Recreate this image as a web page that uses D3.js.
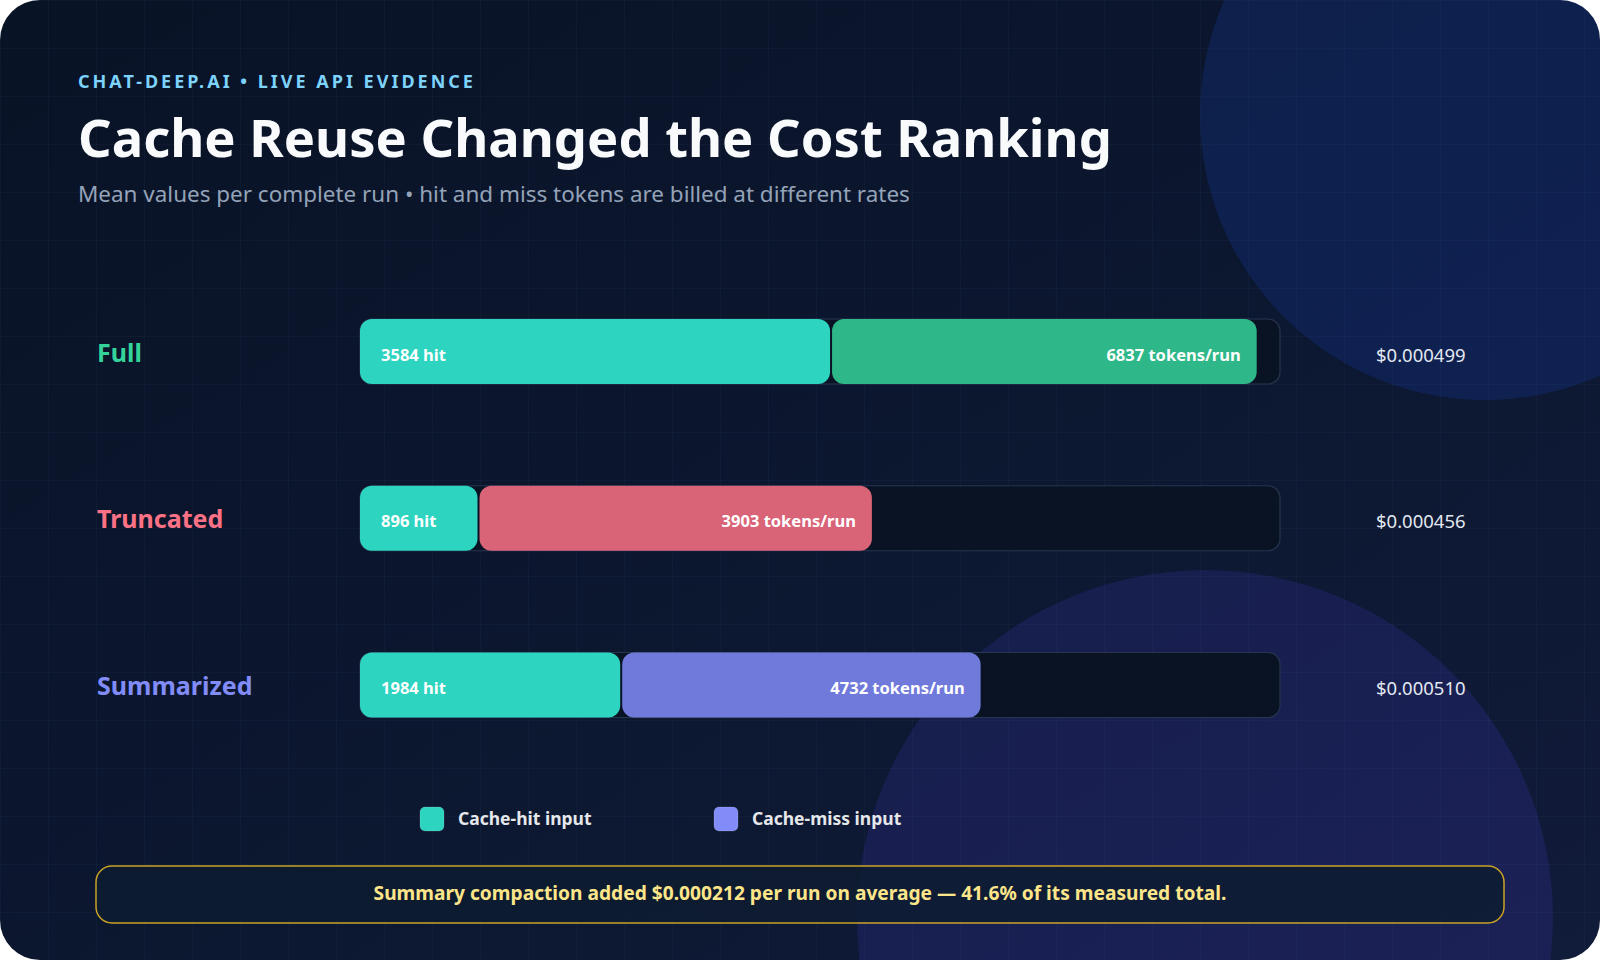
<!DOCTYPE html>
<html>
<head>
<meta charset="utf-8">
<script src="https://cdn.jsdelivr.net/npm/d3@7"></script>
<style>
  html, body { margin: 0; padding: 0; background: #ffffff; }
  svg { display: block; }
  text { font-family: "Noto Sans", "Open Sans", "DejaVu Sans", sans-serif; }
</style>
</head>
<body>
<svg id="chart" width="1600" height="960"></svg>
<script>
// ---- data ----
const categories = ["Full", "Truncated", "Summarized"];
const hitTokens = [3584, 896, 1984];
const totalTokens = [6837, 3903, 4732];
const costPerRun = [0.000499, 0.000456, 0.000510];
const categoryColors = ["#34d399", "#fb7185", "#818cf8"];
const hitColor = "#2dd4bf";
const legendLabels = ["Cache-hit input", "Cache-miss input"];
const legendColors = ["#2dd4bf", "#818cf8"];
const eyebrowText = "CHAT-DEEP.AI \u2022 LIVE API EVIDENCE";
const titleText = "Cache Reuse Changed the Cost Ranking";
const subtitleText = "Mean values per complete run \u2022 hit and miss tokens are billed at different rates";
const footerText = "Summary compaction added $0.000212 per run on average \u2014 41.6% of its measured total.";

// ---- setup ----
const W = 1600, H = 960;
const svg = d3.select("#chart");
const defs = svg.append("defs");

defs.append("clipPath").attr("id", "card")
  .append("rect").attr("width", W).attr("height", H).attr("rx", 40).attr("ry", 40);

const bg = defs.append("linearGradient").attr("id", "bg")
  .attr("x1", "0").attr("y1", "0").attr("x2", "1").attr("y2", "1");
bg.append("stop").attr("offset", "0%").attr("stop-color", "#091326");
bg.append("stop").attr("offset", "55%").attr("stop-color", "#0c1730");
bg.append("stop").attr("offset", "100%").attr("stop-color", "#111b3a");

const grid = defs.append("pattern").attr("id", "grid")
  .attr("width", 48).attr("height", 48).attr("patternUnits", "userSpaceOnUse");
grid.append("path").attr("d", "M48 0 L0 0 0 48").attr("fill", "none")
  .attr("stroke", "rgba(100,130,190,0.10)").attr("stroke-width", 1);

const card = svg.append("g").attr("clip-path", "url(#card)");
card.append("rect").attr("width", W).attr("height", H).attr("fill", "url(#bg)");
card.append("circle").attr("cx", 1485).attr("cy", 115).attr("r", 285)
  .attr("fill", "rgba(29,78,216,0.18)");
card.append("circle").attr("cx", 1205).attr("cy", 918).attr("r", 348)
  .attr("fill", "rgba(79,70,229,0.16)");
card.append("rect").attr("width", W).attr("height", H).attr("fill", "url(#grid)");

function fitWidth(sel, target) {
  const fs = parseFloat(sel.attr("font-size"));
  const w = sel.node().getComputedTextLength();
  sel.attr("font-size", (fs * target / w).toFixed(2));
}

// ---- header ----
const eyebrow = card.append("text").attr("x", 78).attr("y", 88)
  .attr("font-size", 18).attr("font-weight", 700).attr("fill", "#7dd3fc")
  .text(eyebrowText);
{
  const w = eyebrow.node().getComputedTextLength();
  const n = eyebrowText.length;
  eyebrow.attr("letter-spacing", ((395 - w) / (n - 1)).toFixed(2));
}

const title = card.append("text").attr("x", 78).attr("y", 157)
  .attr("font-size", 54).attr("font-weight", 700).attr("fill", "#f8fafc")
  .text(titleText);
fitWidth(title, 1034);

const subtitle = card.append("text").attr("x", 78).attr("y", 202)
  .attr("font-size", 23).attr("font-weight", 400).attr("fill", "#94a3b8")
  .text(subtitleText);
fitWidth(subtitle, 832);

// ---- scales ----
const x = d3.scaleLinear().domain([0, d3.max(totalTokens) * 1.026]).range([360, 1280]);
const y = d3.scalePoint().domain(categories).range([351.5, 685]);
const barH = 65;
const fmtCost = d3.format("$.6f");

const rows = card.selectAll("g.row")
  .data(categories.map((c, i) => ({
    cat: c, hit: hitTokens[i], total: totalTokens[i], cost: costPerRun[i], color: categoryColors[i]
  })))
  .join("g").attr("class", "row")
  .attr("transform", d => `translate(0,${y(d.cat)})`);

rows.append("text").attr("x", 97).attr("y", 10)
  .attr("font-size", 25).attr("font-weight", 700).attr("fill", d => d.color)
  .text(d => d.cat);

rows.append("rect")
  .attr("x", x(0)).attr("y", -barH / 2)
  .attr("width", x.range()[1] - x(0)).attr("height", barH)
  .attr("rx", 12).attr("fill", "#0a1324")
  .attr("stroke", "#26364f").attr("stroke-width", 1.2);

rows.append("rect")
  .attr("x", x(0)).attr("y", -barH / 2)
  .attr("width", d => x(d.hit) - x(0)).attr("height", barH)
  .attr("rx", 12).attr("fill", hitColor);

rows.append("rect")
  .attr("x", d => x(d.hit) + 2).attr("y", -barH / 2)
  .attr("width", d => x(d.total) - x(d.hit) - 2).attr("height", barH)
  .attr("rx", 12).attr("fill", d => d.color).attr("fill-opacity", 0.86);

rows.append("text").attr("x", x(0) + 21).attr("y", 9)
  .attr("font-size", 16.5).attr("font-weight", 700).attr("fill", "#ffffff")
  .text(d => `${d.hit} hit`);

rows.append("text").attr("x", d => x(d.total) - 16).attr("y", 9)
  .attr("text-anchor", "end")
  .attr("font-size", 16.5).attr("font-weight", 700).attr("fill", "#ffffff")
  .text(d => `${d.total} tokens/run`);

rows.append("text").attr("x", 1376).attr("y", 10)
  .attr("font-size", 18.5).attr("font-weight", 400).attr("fill", "#e2e8f0")
  .text(d => fmtCost(d.cost));

// ---- legend ----
const legendX = [420, 714];
const lg = card.selectAll("g.legend")
  .data(legendLabels.map((l, i) => ({ label: l, color: legendColors[i], x: legendX[i] })))
  .join("g").attr("class", "legend")
  .attr("transform", d => `translate(${d.x},807)`);
lg.append("rect").attr("width", 24).attr("height", 24).attr("rx", 5)
  .attr("fill", d => d.color).attr("stroke", "rgba(255,255,255,0.15)");
lg.append("text").attr("x", 38).attr("y", 18)
  .attr("font-size", 17.5).attr("font-weight", 700).attr("fill", "#e5e7eb")
  .text(d => d.label);

// ---- footer ----
card.append("rect").attr("x", 96).attr("y", 866).attr("width", 1408).attr("height", 57)
  .attr("rx", 16).attr("fill", "rgba(14,28,48,0.85)")
  .attr("stroke", "#c9a227").attr("stroke-width", 1.5);
const foot = card.append("text").attr("x", 800).attr("y", 900)
  .attr("text-anchor", "middle")
  .attr("font-size", 19).attr("font-weight", 700).attr("fill", "#fde68a")
  .text(footerText);
fitWidth(foot, 853);
</script>
</body>
</html>
